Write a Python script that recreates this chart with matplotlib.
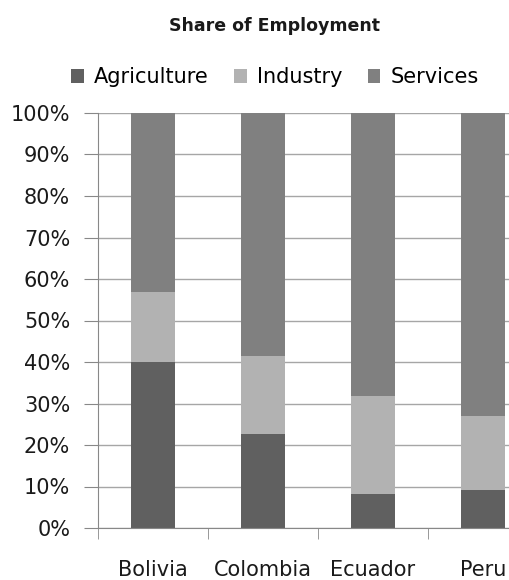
import numpy as np
import matplotlib.pyplot as plt

countries = ["Bolivia", "Colombia", "Ecuador", "Peru"]
agriculture = [40.0, 22.7, 8.2, 9.2]
industry = [16.9, 18.7, 23.6, 17.8]
services = [43.1, 58.6, 68.2, 73.0]

plt.rcParams['font.family'] = ['DejaVu Sans']

fig = plt.figure(figsize=(5.09, 5.80), dpi=100)
# axes runs past the right edge, like the cropped original
ax = fig.add_axes([98 / 509, 1 - 528 / 580, 440 / 509, 415 / 580])

x = np.arange(len(countries))
agri = np.array(agriculture)
ind = np.array(industry)
serv = np.array(services)

ax.bar(x, agri, width=0.4, color="#606060", label="Agriculture", zorder=2)
ax.bar(x, ind, width=0.4, bottom=agri, color="#b2b2b2", label="Industry", zorder=2)
ax.bar(x, serv, width=0.4, bottom=agri + ind, color="#808080", label="Services", zorder=2)

ax.set_xlim(-0.5, len(countries) - 0.5)
ax.set_ylim(0, 100)
ax.set_yticks(np.arange(0, 101, 10))
ax.set_yticklabels([f"{v}%" for v in range(0, 101, 10)], fontsize=15, color="#1a1a1a")
ax.yaxis.grid(True, color="#a6a6a6", linewidth=1, zorder=0)
ax.set_axisbelow(True)

ax.set_xticks(x)
ax.set_xticklabels(countries, fontsize=15, color="#1a1a1a")
ax.tick_params(axis="x", which="major", length=0, pad=23)
ax.set_xticks(np.arange(len(countries)) - 0.5, minor=True)
ax.tick_params(axis="x", which="minor", length=8, color="#888888")
ax.tick_params(axis="y", length=10, color="#888888", pad=10)

for s in ["top", "right"]:
    ax.spines[s].set_visible(False)
for s in ["left", "bottom"]:
    ax.spines[s].set_color("#888888")

fig.text(0.540, 0.956, "Share of Employment", ha="center", va="center",
         fontsize=12.5, fontweight="bold", color="#1a1a1a")

fig.legend(loc="center", bbox_to_anchor=(0.540, 0.867), ncol=3, frameon=False,
           fontsize=15, handlelength=0.62, handleheight=0.62, handletextpad=0.5,
           columnspacing=1.2)

fig.savefig("out.png", dpi=100)
